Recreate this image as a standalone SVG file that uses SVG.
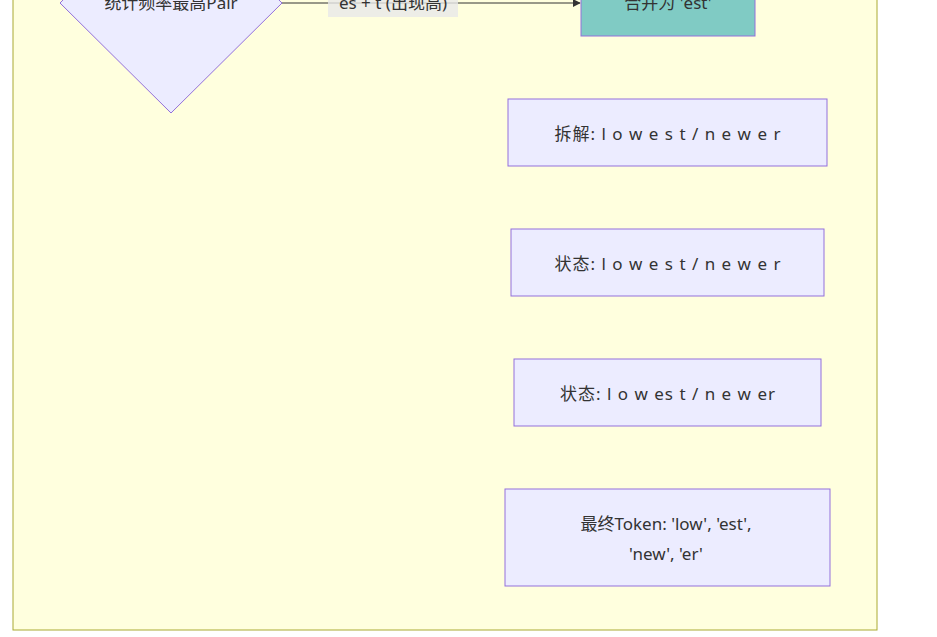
<svg xmlns="http://www.w3.org/2000/svg" width="937" height="637" viewBox="0 0 937 637">
<style>
.n{fill:#ECECFF;stroke:#9370DB;stroke-width:1}
text{font-family:"Noto Sans","Noto Sans CJK SC",sans-serif;font-size:17px;letter-spacing:1px;fill:#333;text-anchor:middle;dominant-baseline:central}
</style>
<defs><marker id="a" viewBox="0 0 10 10" refX="9" refY="5" markerWidth="8" markerHeight="8" orient="auto"><path d="M0,0L10,5L0,10z" fill="#333"/></marker></defs>
<rect width="937" height="637" fill="#fff"/>
<rect x="13" y="-40" width="864" height="670" fill="#FFFFDE" stroke="#AAAA33"/>
<g id="connectors">
<path d="M282,3L580,3" stroke="#333" fill="none" marker-end="url(#a)"/>
<rect x="328" y="-11" width="130" height="28" fill="#E8E8E8" opacity="0.8"/>
<text x="393" y="2" style="letter-spacing:0">es + t (出现高)</text>
</g>
<g id="pair"><polygon class="n" points="171,-107 282,3 171,113 60,3"/><text x="171" y="2" style="letter-spacing:0">统计频率最高Pair</text></g>
<g id="merge"><rect x="581" y="-30" width="174" height="66" fill="#80CBC4" stroke="#9370DB"/><text x="668" y="2" style="letter-spacing:0">合并为 'est'</text></g>
<g id="split"><rect class="n" x="508" y="99" width="319" height="67"/><text x="668" y="133">拆解: l o w e s t / n e w e r</text></g>
<g id="s1"><rect class="n" x="511" y="229" width="313" height="67"/><text x="668" y="263">状态: l o w e s t / n e w e r</text></g>
<g id="s2"><rect class="n" x="514" y="359" width="307" height="67"/><text x="668" y="393">状态: l o w es t / n e w er</text></g>
<g id="final"><rect class="n" x="505" y="489" width="325" height="97"/><text x="666" y="523" style="letter-spacing:0">最终Token: 'low', 'est',</text><text x="666" y="553" style="letter-spacing:0">'new', 'er'</text></g>
</svg>
